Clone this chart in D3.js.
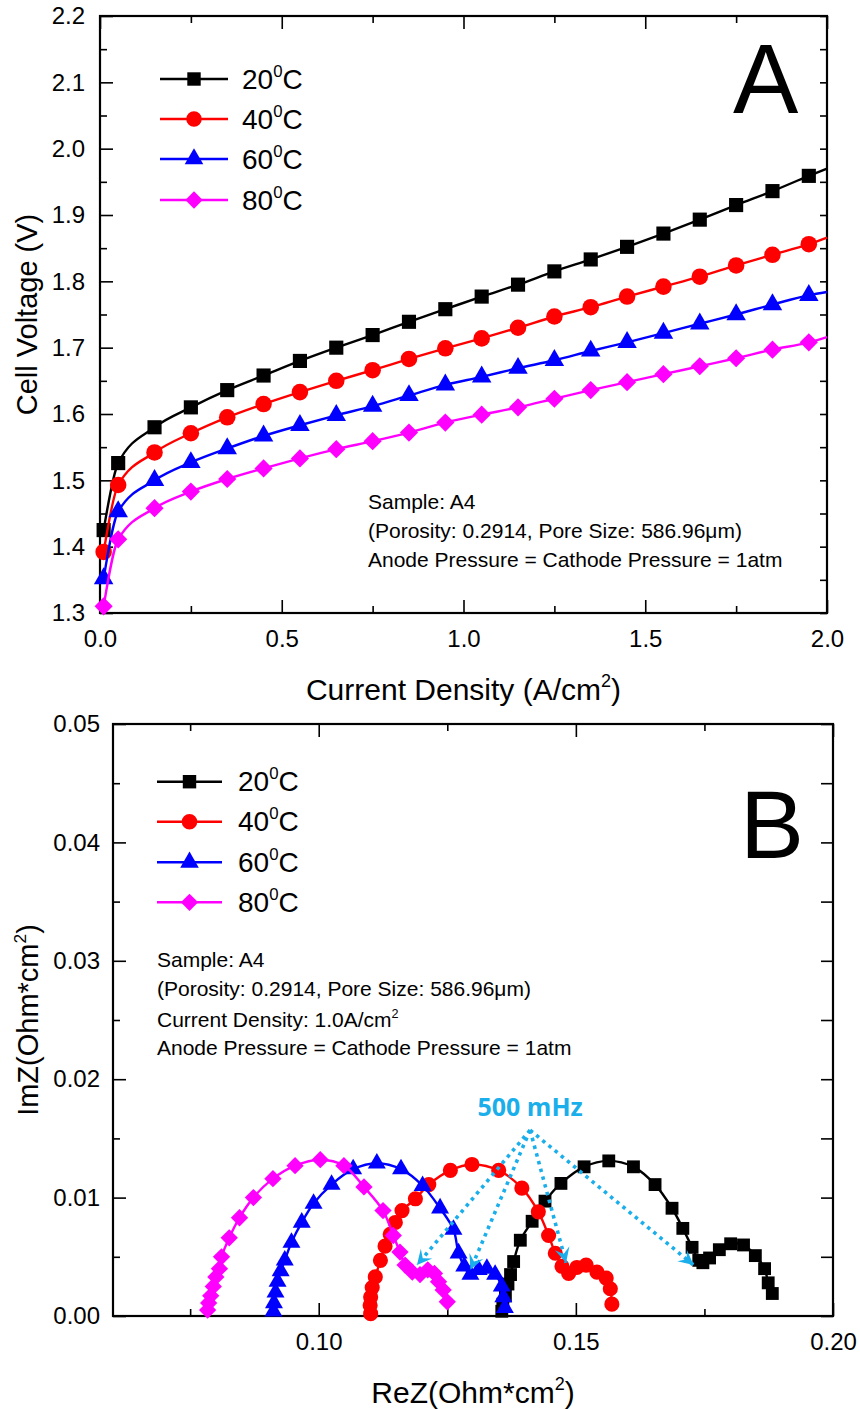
<!DOCTYPE html>
<html lang="en">
<head>
<meta charset="utf-8">
<title>Cell voltage and impedance vs temperature</title>
<script src="https://cdn.jsdelivr.net/npm/d3@7"></script>
<style>
body { margin: 0; background: #fff; }
svg { display: block; font-family: "Liberation Sans", Arial, sans-serif; }
.axis path.domain { display: none; }
.axis line { stroke: #000; stroke-width: 1.6; }
.axis text { font-size: 24px; fill: #000; font-family: "Liberation Sans", Arial, sans-serif; }
</style>
</head>
<body>
<svg id="chart" width="860" height="1409"></svg>
<script>
// ---- data ----
var temps = ["20", "40", "60", "80"];
var colors = ["#000000", "#ff0000", "#0000ff", "#ff00ff"];

// panel A: polarization curves
var currentDensity = [0.01, 0.05, 0.15, 0.25, 0.35, 0.45, 0.55, 0.65, 0.75, 0.85, 0.95,
  1.05, 1.15, 1.25, 1.35, 1.45, 1.55, 1.65, 1.75, 1.85, 1.95, 2.0];
var voltage20 = [1.425, 1.526, 1.580, 1.610, 1.636, 1.658, 1.680, 1.700, 1.719, 1.739, 1.758,
  1.777, 1.795, 1.815, 1.833, 1.852, 1.872, 1.893, 1.915, 1.936, 1.959, 1.970];
var voltage40 = [1.392, 1.493, 1.542, 1.571, 1.595, 1.615, 1.633, 1.650, 1.666, 1.683, 1.699,
  1.714, 1.730, 1.747, 1.761, 1.777, 1.792, 1.807, 1.824, 1.840, 1.856, 1.866];
var voltage60 = [1.352, 1.453, 1.500, 1.527, 1.548, 1.567, 1.583, 1.598, 1.612, 1.628, 1.644,
  1.656, 1.669, 1.681, 1.695, 1.708, 1.722, 1.736, 1.750, 1.765, 1.779, 1.784];
var voltage80 = [1.310, 1.411, 1.458, 1.483, 1.502, 1.518, 1.533, 1.547, 1.559, 1.572, 1.587,
  1.599, 1.610, 1.623, 1.636, 1.648, 1.660, 1.672, 1.684, 1.697, 1.708, 1.716];

// panel B: Nyquist plots
var reZ20 = [0.1356, 0.1358, 0.1363, 0.1368, 0.1373, 0.1379, 0.1392, 0.1415, 0.1440, 0.1471, 0.1516,
  0.1564, 0.1612, 0.1654, 0.1687, 0.1708, 0.1726, 0.1739, 0.1747, 0.1760, 0.1779, 0.1801, 0.1826,
  0.1849, 0.1867, 0.1874, 0.1882];
var imZ20 = [0.0004, 0.0010, 0.0017, 0.0027, 0.0035, 0.0046, 0.0064, 0.0080, 0.0097, 0.0112, 0.0126,
  0.0131, 0.0126, 0.0111, 0.0091, 0.0074, 0.0058, 0.0047, 0.0045, 0.0049, 0.0056, 0.0061, 0.0060,
  0.0051, 0.0040, 0.0028, 0.0019];
var reZ40 = [0.1101, 0.1100, 0.1101, 0.1104, 0.1110, 0.1120, 0.1129, 0.1139, 0.1149, 0.1162, 0.1188,
  0.1214, 0.1256, 0.1298, 0.1350, 0.1395, 0.1427, 0.1447, 0.1460, 0.1473, 0.1486, 0.1502, 0.1520,
  0.1541, 0.1559, 0.1567, 0.1570];
var imZ40 = [0.0002, 0.0009, 0.0016, 0.0024, 0.0033, 0.0047, 0.0059, 0.0069, 0.0079, 0.0089, 0.0099,
  0.0111, 0.0123, 0.0128, 0.0123, 0.0108, 0.0088, 0.0068, 0.0053, 0.0042, 0.0036, 0.0041, 0.0043,
  0.0037, 0.0032, 0.0023, 0.0010];
var reZ60 = [0.0912, 0.0913, 0.0916, 0.0920, 0.0926, 0.0934, 0.0947, 0.0967, 0.0990, 0.1025, 0.1067,
  0.1113, 0.1160, 0.1202, 0.1236, 0.1262, 0.1272, 0.1283, 0.1295, 0.1311, 0.1327, 0.1343, 0.1356,
  0.1359, 0.1362];
var imZ60 = [0.0004, 0.0011, 0.0020, 0.0029, 0.0038, 0.0047, 0.0062, 0.0079, 0.0095, 0.0111, 0.0124,
  0.0129, 0.0124, 0.0110, 0.0091, 0.0073, 0.0053, 0.0042, 0.0035, 0.0039, 0.0040, 0.0035, 0.0025,
  0.0016, 0.0007];
var reZ80 = [0.0784, 0.0786, 0.0790, 0.0795, 0.0800, 0.0807, 0.0811, 0.0826, 0.0846, 0.0873, 0.0911,
  0.0954, 0.1003, 0.1049, 0.1088, 0.1125, 0.1145, 0.1158, 0.1168, 0.1182, 0.1197, 0.1212, 0.1225,
  0.1233, 0.1242, 0.1250];
var imZ80 = [0.0005, 0.0011, 0.0017, 0.0025, 0.0033, 0.0040, 0.0050, 0.0066, 0.0083, 0.0100, 0.0116,
  0.0127, 0.0132, 0.0127, 0.0109, 0.0089, 0.0068, 0.0054, 0.0043, 0.0037, 0.0035, 0.0039, 0.0036,
  0.0029, 0.0022, 0.0012];

// 500 mHz points: label, arrow origin and arrow tips (ReZ, ImZ)
var freqLabel = "500 mHz";
var freqLabelAt = [0.1411, 0.0169];
var arrowFrom = [0.1411, 0.0157];
var arrowTips = [[0.1191, 0.0043], [0.1295, 0.0039], [0.1481, 0.0045], [0.1729, 0.0043]];

var notesA = ["Sample: A4", "(Porosity: 0.2914, Pore Size: 586.96\u03bcm)",
  "Anode Pressure = Cathode Pressure = 1atm"];
var notesB = ["Sample: A4", "(Porosity: 0.2914, Pore Size: 586.96\u03bcm)",
  "Current Density: 1.0A/cm|2", "Anode Pressure = Cathode Pressure = 1atm"];

// ---- drawing ----
var svg = d3.select("#chart");
var sym = [
  function(s) { return d3.symbol(d3.symbolSquare, s)(); },
  function(s) { return d3.symbol(d3.symbolCircle, s)(); },
  function(s) { return d3.symbol(d3.symbolTriangle, s)(); },
  function(s) { return d3.symbol(d3.symbolSquare, s)(); }
];
var symRot = [0, 0, 0, 45];

function drawFrame(x, y, o) {
  var g = svg.append("g");
  var x0 = x.range()[0], x1 = x.range()[1], y0 = y.range()[0], y1 = y.range()[1];

  g.append("g").attr("class", "axis").attr("transform", "translate(0," + y0 + ")")
    .call(d3.axisBottom(x).tickValues(o.xMajor).tickSize(-13).tickPadding(17).tickFormat(d3.format(o.xFmt)));
  g.append("g").attr("class", "axis").attr("transform", "translate(0," + y0 + ")")
    .call(d3.axisBottom(x).tickValues(o.xMinor).tickSize(-7).tickFormat(""));
  g.append("g").attr("class", "axis").attr("transform", "translate(0," + y1 + ")")
    .call(d3.axisTop(x).tickValues(o.xMajor).tickSize(-13).tickFormat(""));
  g.append("g").attr("class", "axis").attr("transform", "translate(0," + y1 + ")")
    .call(d3.axisTop(x).tickValues(o.xMinor).tickSize(-7).tickFormat(""));

  g.append("g").attr("class", "axis").attr("transform", "translate(" + x0 + ",0)")
    .call(d3.axisLeft(y).tickValues(o.yMajor).tickSize(-13).tickPadding(o.yPad).tickFormat(d3.format(o.yFmt)));
  g.append("g").attr("class", "axis").attr("transform", "translate(" + x0 + ",0)")
    .call(d3.axisLeft(y).tickValues(o.yMinor).tickSize(-7).tickFormat(""));
  g.append("g").attr("class", "axis").attr("transform", "translate(" + x1 + ",0)")
    .call(d3.axisRight(y).tickValues(o.yMajor.concat(o.yMinor)).tickSize(-o.rightTick).tickFormat(""));

  g.append("rect")
    .attr("x", x0).attr("y", y1).attr("width", x1 - x0).attr("height", y0 - y1)
    .attr("fill", "none").attr("stroke", "#000").attr("stroke-width", 2.2);
}

function supText(sel, str, size) {
  // "a|b..." -> a, then b raised as a superscript, then the rest
  var parts = str.split("|");
  sel.append("tspan").text(parts[0]);
  if (parts.length > 1) {
    sel.append("tspan").attr("font-size", size * 0.6).attr("dy", -size * 0.42).text(parts[1].charAt(0));
    sel.append("tspan").attr("dy", size * 0.42).text(parts[1].slice(1));
  }
}

function drawLegend(x0, x1, ys, tx, size) {
  var legSizes = [180, 190, 150, 150];
  temps.forEach(function(t, i) {
    var yc = ys[i];
    svg.append("line").attr("x1", x0).attr("x2", x1).attr("y1", yc).attr("y2", yc)
      .attr("stroke", colors[i]).attr("stroke-width", 2.4);
    svg.append("path").attr("d", sym[i](legSizes[i]))
      .attr("transform", "translate(" + ((x0 + x1) / 2) + "," + yc + ") rotate(" + symRot[i] + ")")
      .attr("fill", colors[i]);
    var txt = svg.append("text").attr("x", tx).attr("y", yc + 9.5).attr("font-size", size);
    supText(txt, t + "|0C", size);
  });
}

function drawSeries(x, y, xs, ys, i, sizes, curve, markFilter) {
  var pts = xs.map(function(v, k) { return [v, ys[k]]; });
  var line = d3.line().x(function(d) { return x(d[0]); }).y(function(d) { return y(d[1]); }).curve(curve);
  svg.append("path").attr("d", line(pts)).attr("fill", "none")
    .attr("stroke", colors[i]).attr("stroke-width", 2.4);
  svg.append("g").selectAll("path").data(pts.filter(markFilter)).enter().append("path")
    .attr("d", sym[i](sizes[i]))
    .attr("transform", function(d) { return "translate(" + x(d[0]) + "," + y(d[1]) + ") rotate(" + symRot[i] + ")"; })
    .attr("fill", colors[i]);
}

// ---------- panel A ----------
var xA = d3.scaleLinear().domain([0, 2.0]).range([100, 827]);
var yA = d3.scaleLinear().domain([1.3, 2.2]).range([613, 16]);

drawFrame(xA, yA, {
  xMajor: [0, 0.5, 1.0, 1.5, 2.0], xMinor: [0.25, 0.75, 1.25, 1.75], xFmt: ".1f",
  yMajor: d3.range(13, 23).map(function(v) { return v / 10; }),
  yMinor: d3.range(13, 22).map(function(v) { return v / 10 + 0.05; }),
  yFmt: ".1f", yPad: 15, rightTick: 7
});

[voltage20, voltage40, voltage60, voltage80].forEach(function(v, i) {
  drawSeries(xA, yA, currentDensity, v, i, [200, 215, 165, 165], d3.curveMonotoneX,
    function(d) { return d[0] < 2.0; });
});

drawLegend(160, 228, [79, 119, 159, 200], 242, 28);

notesA.forEach(function(s, k) {
  svg.append("text").attr("x", 368).attr("y", 509 + k * 29).attr("font-size", 21).text(s);
});

svg.append("text").attr("x", 733).attr("y", 113).attr("font-size", 98).text("A");

var tA = svg.append("text").attr("x", 463.5).attr("y", 700).attr("text-anchor", "middle").attr("font-size", 30);
supText(tA, "Current Density (A/cm|2)", 30);
var tAy = svg.append("text").attr("transform", "translate(37,314.5) rotate(-90)")
  .attr("text-anchor", "middle").attr("font-size", 29);
supText(tAy, "Cell Voltage (V)", 29);

// ---------- panel B ----------
var xB = d3.scaleLinear().domain([0.06, 0.20]).range([113, 833]);
var yB = d3.scaleLinear().domain([0, 0.05]).range([1316, 724]);

drawFrame(xB, yB, {
  xMajor: [0.10, 0.15, 0.20], xMinor: [0.075, 0.125, 0.175], xFmt: ".2f",
  yMajor: [0, 0.01, 0.02, 0.03, 0.04, 0.05],
  yMinor: [0.005, 0.015, 0.025, 0.035, 0.045],
  yFmt: ".2f", yPad: 13, rightTick: 12
});

[[reZ20, imZ20], [reZ40, imZ40], [reZ60, imZ60], [reZ80, imZ80]].forEach(function(s, i) {
  drawSeries(xB, yB, s[0], s[1], i, [165, 180, 140, 150], d3.curveCatmullRom.alpha(0.5),
    function() { return true; });
});

// 500 mHz arrows
var blue = "#1aaeea";
svg.append("defs").append("marker")
  .attr("id", "arrowHead").attr("markerUnits", "userSpaceOnUse")
  .attr("viewBox", "-16 -9 18 18").attr("markerWidth", 18).attr("markerHeight", 18)
  .attr("refX", 0).attr("refY", 0).attr("orient", "auto")
  .append("path").attr("d", "M-15,-7.5 L0,0 L-15,7.5 L-9,0 Z").attr("fill", blue);

arrowTips.forEach(function(t) {
  svg.append("line")
    .attr("x1", xB(arrowFrom[0])).attr("y1", yB(arrowFrom[1]))
    .attr("x2", xB(t[0])).attr("y2", yB(t[1]))
    .attr("stroke", blue).attr("stroke-width", 3.6).attr("stroke-dasharray", "3.5,4.5")
    .attr("marker-end", "url(#arrowHead)");
});
svg.append("text").attr("x", xB(freqLabelAt[0])).attr("y", yB(freqLabelAt[1]))
  .attr("text-anchor", "middle").attr("font-size", 25).attr("font-weight", "bold")
  .attr("font-family", "'Open Sans', 'Noto Sans', sans-serif").attr("fill", blue).text(freqLabel);

drawLegend(157, 222, [781.7, 821.7, 862.3, 902.3], 238, 28);

var noteY = [967, 996, 1027, 1055];
notesB.forEach(function(s, k) {
  var t = svg.append("text").attr("x", 157).attr("y", noteY[k]).attr("font-size", 21);
  supText(t, s, 21);
});

svg.append("text").attr("x", 740).attr("y", 858).attr("font-size", 96).text("B");

var tB = svg.append("text").attr("x", 473).attr("y", 1403).attr("text-anchor", "middle").attr("font-size", 30);
supText(tB, "ReZ(Ohm*cm|2)", 30);
var tBy = svg.append("text").attr("transform", "translate(38,1020) rotate(-90)")
  .attr("text-anchor", "middle").attr("font-size", 29);
supText(tBy, "ImZ(Ohm*cm|2)", 29);
</script>
</body>
</html>
